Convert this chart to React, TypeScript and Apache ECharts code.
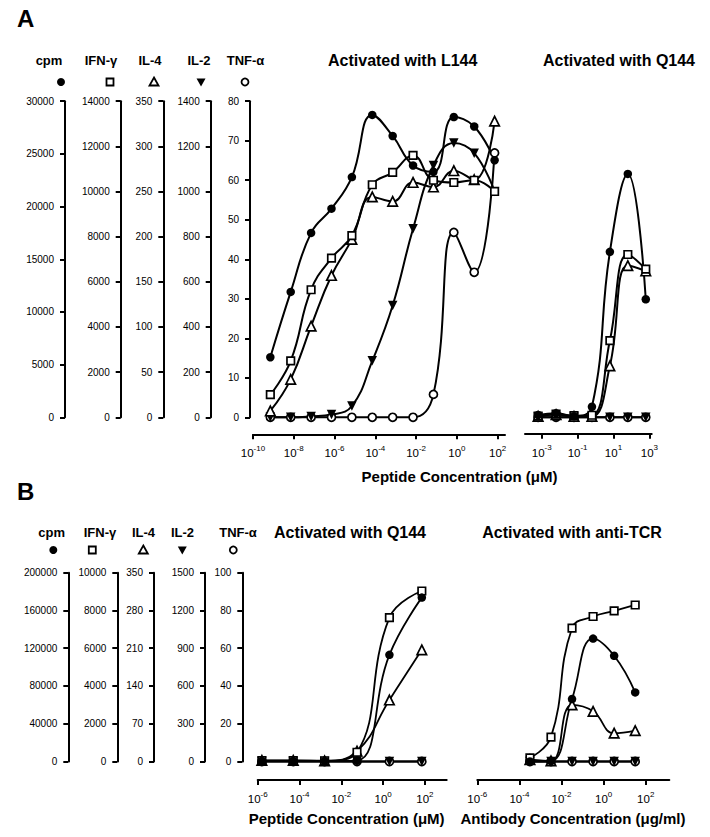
import React, { useEffect, useRef } from 'react';
import * as echarts from 'echarts';

const FONT = '"Liberation Sans", Arial, Helvetica, sans-serif';

// ---------- DATA ----------
const MEASURES = ['cpm', 'IFN-γ', 'IL-4', 'IL-2', 'TNF-α'];

// Panel A axis scales (max, step) for cpm, IFN-γ, IL-4, IL-2, TNF-α
const A_MAX = [30000, 14000, 350, 1400, 80];
const A_STEP = [5000, 2000, 50, 200, 10];
// Panel B axis scales
const B_MAX = [200000, 10000, 350, 1500, 100];
const B_STEP = [40000, 2000, 70, 300, 20];

// Panel A, activated with L144 — x = log10(peptide µM)
const aL144X = [-9.15, -8.15, -7.15, -6.15, -5.15, -4.15, -3.15, -2.15, -1.15, -0.15, 0.85, 1.85];
const aL144Cpm = [5700, 11900, 17500, 19800, 22800, 28700, 26700, 23900, 23300, 28500, 27600, 24400];
const aL144Ifn = [1000, 2500, 5650, 7050, 8050, 10300, 10850, 11600, 10500, 10400, 10500, 10000];
const aL144Il4 = [7, 42, 101, 157, 197, 244, 239, 260, 255, 273, 263, 328];
const aL144Il2 = [0, 0, 4, 12, 50, 250, 495, 835, 1115, 1215, 1170, 1000];
const aL144Tnf = [0, 0, 0, 0, 0, 0, 0, 0, 5.8, 46.8, 36.7, 66.9];

// Panel A, activated with Q144
const aQ144X = [-3.2, -2.2, -1.2, -0.2, 0.8, 1.8, 2.8];
const aQ144Cpm = [220, 380, 110, 1000, 15700, 23100, 11200];
const aQ144Ifn = [50, 140, 70, 90, 3400, 7210, 6560];
const aQ144Il4 = [1, 3, 1, 1, 57, 168, 162];
const aQ144Il2 = [0, 0, 0, 0, 0, 0, 0];
const aQ144Tnf = [0, 0, 0, 0, 0, 0, 0];

// Panel B, activated with Q144 — x = log10(peptide µM)
const bQ144X = [-5.8, -4.3, -2.8, -1.25, 0.3, 1.85];
const bQ144Cpm = [600, 600, 600, 1000, 113000, 173600];
const bQ144Ifn = [50, 50, 40, 490, 7620, 9030];
const bQ144Il4 = [2, 2, 1, 19, 114, 207];
const bQ144Il2 = [0, 0, 0, 0, 0, 0];
const bQ144Tnf = [0, 0, 0, 0, 0, 0];

// Panel B, activated with anti-TCR — x = log10(antibody µg/ml)
const bTcrX = [-3.5, -2.5, -1.5, -0.5, 0.5, 1.5];
const bTcrCpm = [0, 400, 66200, 130200, 112000, 73200];
const bTcrIfn = [190, 1290, 7060, 7680, 7980, 8290];
const bTcrIl4 = [3.5, 1, 105, 93, 52.5, 57.4];
const bTcrIl2 = [0, 0, 0, 0, 0, 0];
const bTcrTnf = [0, 0, 0, 0, 0, 0];

// x tick exponents
const aL144Ticks = [-10, -8, -6, -4, -2, 0, 2];
const aQ144Ticks = [-3, -1, 1, 3];
const bTicks = [-6, -4, -2, 0, 2];

// ---------- LAYOUT ----------
const A_AXIS_X = [65, 120.7, 163.3, 210.7, 250];
const B_AXIS_X = [68.3, 117.3, 154, 205, 242.3];
const GRIDS = [
  { left: 253, top: 101.2, width: 252, height: 316.1 },
  { left: 525, top: 101.2, width: 126.7, height: 316.1 },
  { left: 257.7, top: 572.7, width: 189, height: 188.8 },
  { left: 477.3, top: 572.7, width: 192, height: 188.8 },
];

const MARKERS = [
  { symbol: 'circle', size: 8.5, fill: '#000', rotate: 0 },
  { symbol: 'rect', size: 7.5, fill: '#fff', rotate: 0 },
  { symbol: 'triangle', size: 9.5, fill: '#fff', rotate: 0 },
  { symbol: 'triangle', size: 9.5, fill: '#000', rotate: 180 },
  { symbol: 'circle', size: 8, fill: '#fff', rotate: 0 },
];

function xAxis(grid: number, min: number, max: number, ticks: number[], offset: number) {
  return {
    type: 'value', gridIndex: grid, min, max, offset, position: 'bottom',
    axisLine: { show: true, onZero: false, lineStyle: { color: '#000', width: 2 } },
    axisTick: { show: true, length: 5, customValues: ticks, lineStyle: { color: '#000', width: 2 } },
    axisLabel: {
      customValues: ticks, margin: 10,
      formatter: (v: number) => `{b|10}{s|${Math.round(v)}}`,
      rich: {
        b: { fontSize: 11.5, fontFamily: FONT, color: '#000', lineHeight: 15, verticalAlign: 'bottom' },
        s: { fontSize: 8, fontFamily: FONT, color: '#000', lineHeight: 9, verticalAlign: 'top' },
      },
    },
    splitLine: { show: false },
  };
}

function yAxis(grid: number, max: number, step: number, offset: number, show: boolean) {
  return {
    type: 'value', gridIndex: grid, min: 0, max, interval: step, position: 'left', offset, show,
    axisLine: { show: true, onZero: false, lineStyle: { color: '#000', width: 2 } },
    axisTick: { show: true, length: 5, lineStyle: { color: '#000', width: 2 } },
    axisLabel: { margin: 11, fontSize: 10, color: '#000', fontFamily: FONT, formatter: (v: number) => String(v) },
    splitLine: { show: false },
  };
}

function buildSeries(panel: number, xs: number[], sets: number[][], lw: number) {
  const out: any[] = [];
  [4, 3, 2, 1, 0].forEach((m) => {
    const mk = MARKERS[m];
    out.push({
      type: 'line', name: MEASURES[m], xAxisIndex: panel, yAxisIndex: panel * 5 + m,
      data: xs.map((x, i) => [x, sets[m][i]]),
      smooth: 0.45, symbol: mk.symbol, symbolSize: mk.size, symbolRotate: mk.rotate, showSymbol: true,
      lineStyle: { color: '#000', width: lw },
      itemStyle: { color: mk.fill, borderColor: '#000', borderWidth: mk.fill === '#fff' ? 1.7 : 0 },
      clip: false, silent: true,
    });
  });
  return out;
}

function headerGraphics(names: number[], y: number, symY: number, textX: number[], symX: number[]) {
  const g: any[] = [];
  names.forEach((m, i) => {
    g.push({
      type: 'text', silent: true,
      style: { text: MEASURES[m], x: textX[i], y, fill: '#000', font: `bold 13px ${FONT}`, textAlign: 'center', textVerticalAlign: 'middle' },
    });
    const cx = symX[i], cy = symY;
    if (m === 0) g.push({ type: 'circle', shape: { cx, cy, r: 4 }, style: { fill: '#000' } });
    if (m === 1) g.push({ type: 'rect', shape: { x: cx - 3.5, y: cy - 3.5, width: 7, height: 7 }, style: { fill: '#fff', stroke: '#000', lineWidth: 1.8 } });
    if (m === 2) g.push({ type: 'polygon', shape: { points: [[cx, cy - 4.5], [cx + 4.5, cy + 3.5], [cx - 4.5, cy + 3.5]] }, style: { fill: '#fff', stroke: '#000', lineWidth: 1.8 } });
    if (m === 3) g.push({ type: 'polygon', shape: { points: [[cx - 4.5, cy - 3.5], [cx + 4.5, cy - 3.5], [cx, cy + 4.5]] }, style: { fill: '#000' } });
    if (m === 4) g.push({ type: 'circle', shape: { cx, cy, r: 3.5 }, style: { fill: '#fff', stroke: '#000', lineWidth: 1.8 } });
  });
  return g;
}

function txt(text: string, x: number, y: number, size: number, align = 'center') {
  return {
    type: 'text', silent: true,
    style: { text, x, y, fill: '#000', font: `bold ${size}px ${FONT}`, textAlign: align, textVerticalAlign: 'middle' },
  };
}

export default function App() {
  const ref = useRef<HTMLDivElement>(null);
  useEffect(() => {
    if (!ref.current) return;
    const chart = echarts.init(ref.current, null, { renderer: 'svg' });
    const yAxes: any[] = [];
    for (let m = 0; m < 5; m++) yAxes.push(yAxis(0, A_MAX[m], A_STEP[m], GRIDS[0].left - A_AXIS_X[m], true));
    for (let m = 0; m < 5; m++) yAxes.push(yAxis(1, A_MAX[m], A_STEP[m], 0, false));
    for (let m = 0; m < 5; m++) yAxes.push(yAxis(2, B_MAX[m], B_STEP[m], GRIDS[2].left - B_AXIS_X[m], true));
    for (let m = 0; m < 5; m++) yAxes.push(yAxis(3, B_MAX[m], B_STEP[m], 0, false));

    const option: any = {
      animation: false,
      backgroundColor: '#fff',
      textStyle: { fontFamily: FONT },
      grid: GRIDS.map((g) => ({ ...g, containLabel: false })),
      xAxis: [
        xAxis(0, -10, 2.36, aL144Ticks, 17),
        xAxis(1, -3.93, 3.13, aQ144Ticks, 16.5),
        xAxis(2, -6, 3.04, bTicks, 18.5),
        xAxis(3, -6, 3.12, bTicks, 18.5),
      ],
      yAxis: yAxes,
      series: [
        ...buildSeries(0, aL144X, [aL144Cpm, aL144Ifn, aL144Il4, aL144Il2, aL144Tnf], 2),
        ...buildSeries(1, aQ144X, [aQ144Cpm, aQ144Ifn, aQ144Il4, aQ144Il2, aQ144Tnf], 2),
        ...buildSeries(2, bQ144X, [bQ144Cpm, bQ144Ifn, bQ144Il4, bQ144Il2, bQ144Tnf], 1.8),
        ...buildSeries(3, bTcrX, [bTcrCpm, bTcrIfn, bTcrIl4, bTcrIl2, bTcrTnf], 1.8),
      ],
      graphic: [
        txt('A', 17, 18.5, 24, 'left'),
        txt('B', 17, 491.5, 24, 'left'),
        ...headerGraphics([0, 1, 2, 3, 4], 60, 82, [49, 101, 150, 199, 245.5], [61, 110, 154, 201, 245]),
        ...headerGraphics([0, 1, 2, 3, 4], 532, 550, [51.7, 100, 143.5, 182.5, 238], [53.3, 92.3, 143.3, 182.3, 233.3]),
        txt('Activated with L144', 402.7, 60, 16),
        txt('Activated with Q144', 619, 60, 16),
        txt('Peptide Concentration (μM)', 459.5, 476.5, 15),
        txt('Activated with Q144', 350, 532, 16),
        txt('Activated with anti-TCR', 572, 532, 16),
        txt('Peptide Concentration (μM)', 346.7, 818.3, 15),
        txt('Antibody Concentration (μg/ml)', 573, 818.3, 15),
      ],
    };
    chart.setOption(option);
    return () => chart.dispose();
  }, []);
  return <div ref={ref} style={{ position: 'fixed', left: 0, top: 0, width: 710, height: 837, background: '#fff' }} />;
}
